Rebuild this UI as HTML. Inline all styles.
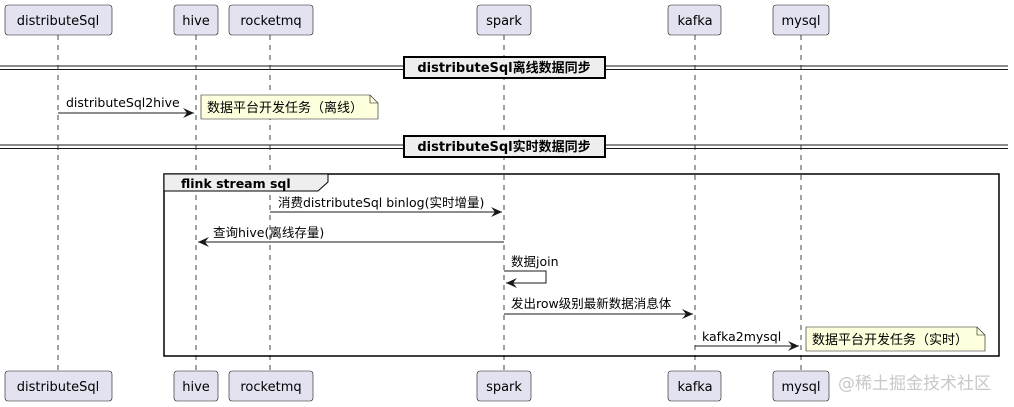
<!DOCTYPE html>
<html><head><meta charset="utf-8"><style>
html,body{margin:0;padding:0;background:#fff;}
svg{display:block;font-family:"DejaVu Sans","Noto Sans CJK SC",sans-serif;}
</style></head><body>
<svg width="1014" height="407" viewBox="0 0 1014 407" xmlns="http://www.w3.org/2000/svg">
<defs>
<marker id="a" markerWidth="12" markerHeight="10" refX="11" refY="5" orient="auto" markerUnits="userSpaceOnUse">
<path d="M0,0 L11,5 L0,10 L4,5 Z" fill="#181818"/></marker>
</defs>
<g stroke="#181818" stroke-width="0.8" stroke-dasharray="5,5">
<line x1="58" y1="35" x2="58" y2="371"/>
<line x1="196" y1="35" x2="196" y2="371"/>
<line x1="270" y1="35" x2="270" y2="371"/>
<line x1="504" y1="35" x2="504" y2="371"/>
<line x1="695" y1="35" x2="695" y2="371"/>
<line x1="801" y1="35" x2="801" y2="371"/>
</g>
<g fill="#E2E2F0" stroke="#181818" stroke-width="0.6">
<rect x="5" y="5" width="107" height="30" rx="3"/><rect x="174" y="5" width="44" height="30" rx="3"/>
<rect x="229" y="5" width="84" height="30" rx="3"/><rect x="477" y="5" width="54" height="30" rx="3"/>
<rect x="668" y="5" width="53" height="30" rx="3"/><rect x="773" y="5" width="56" height="30" rx="3"/>
<rect x="5" y="371" width="107" height="30" rx="3"/><rect x="174" y="371" width="44" height="30" rx="3"/>
<rect x="229" y="371" width="84" height="30" rx="3"/><rect x="477" y="371" width="54" height="30" rx="3"/>
<rect x="668" y="371" width="53" height="30" rx="3"/><rect x="773" y="371" width="56" height="30" rx="3"/>
</g>
<g font-size="13" fill="#000" text-anchor="middle">
<text x="58" y="25">distributeSql</text><text x="196" y="25">hive</text><text x="271" y="25">rocketmq</text>
<text x="504" y="25">spark</text><text x="695" y="25">kafka</text><text x="801" y="25">mysql</text>
<text x="58" y="391">distributeSql</text><text x="196" y="391">hive</text><text x="271" y="391">rocketmq</text>
<text x="504" y="391">spark</text><text x="695" y="391">kafka</text><text x="801" y="391">mysql</text>
</g>
<g stroke="#181818" stroke-width="1">
<line x1="0" y1="66" x2="1008" y2="66"/><line x1="0" y1="69.5" x2="1008" y2="69.5"/>
<line x1="0" y1="145" x2="1008" y2="145"/><line x1="0" y1="148.5" x2="1008" y2="148.5"/>
</g>
<rect x="404" y="57" width="201" height="21" fill="#EEEEEE" stroke="#000" stroke-width="2"/>
<rect x="404" y="136" width="201" height="21" fill="#EEEEEE" stroke="#000" stroke-width="2"/>
<text x="504" y="72" font-size="13" font-weight="bold" text-anchor="middle">distributeSql离线数据同步</text>
<text x="504" y="151" font-size="13" font-weight="bold" text-anchor="middle">distributeSql实时数据同步</text>
<line x1="58" y1="113" x2="194" y2="113" stroke="#181818" marker-end="url(#a)"/>
<text x="66" y="107" font-size="12.5">distributeSql2hive</text>
<path d="M201,95 H370 L378,103 V119 H201 Z" fill="#FEFFDD" stroke="#181818" stroke-width="0.6"/>
<path d="M370,95 V103 H378" fill="none" stroke="#181818" stroke-width="0.6"/>
<text x="207" y="112" font-size="13">数据平台开发任务（离线）</text>
<rect x="164" y="174" width="835" height="182" fill="none" stroke="#000" stroke-width="1.5"/>
<path d="M164,174 H328 V182 L318,191 H164 Z" fill="#EEEEEE" stroke="#000" stroke-width="1"/>
<text x="181" y="188" font-size="12.5" font-weight="bold">flink stream sql</text>
<g stroke="#181818" fill="none">
<line x1="270" y1="212" x2="502" y2="212" marker-end="url(#a)"/>
<line x1="504" y1="242" x2="198" y2="242" marker-end="url(#a)"/>
<path d="M504,271 H546 V283 H506" marker-end="url(#a)"/>
<line x1="504" y1="314" x2="693" y2="314" marker-end="url(#a)"/>
<line x1="695" y1="346" x2="799" y2="346" marker-end="url(#a)"/>
</g>
<g font-size="12.5">
<text x="278" y="207">消费distributeSql binlog(实时增量)</text>
<text x="213" y="237">查询hive(离线存量)</text>
<text x="511" y="266">数据join</text>
<text x="511" y="308">发出row级别最新数据消息体</text>
<text x="702" y="341">kafka2mysql</text>
</g>
<path d="M806,327 H977 L985,335 V351 H806 Z" fill="#FEFFDD" stroke="#181818" stroke-width="0.6"/>
<path d="M977,327 V335 H985" fill="none" stroke="#181818" stroke-width="0.6"/>
<text x="812" y="344" font-size="13">数据平台开发任务（实时）</text>
<text x="838" y="389" font-size="17" fill="#c8c8c8">@稀土掘金技术社区</text>
</svg>
</body></html>
